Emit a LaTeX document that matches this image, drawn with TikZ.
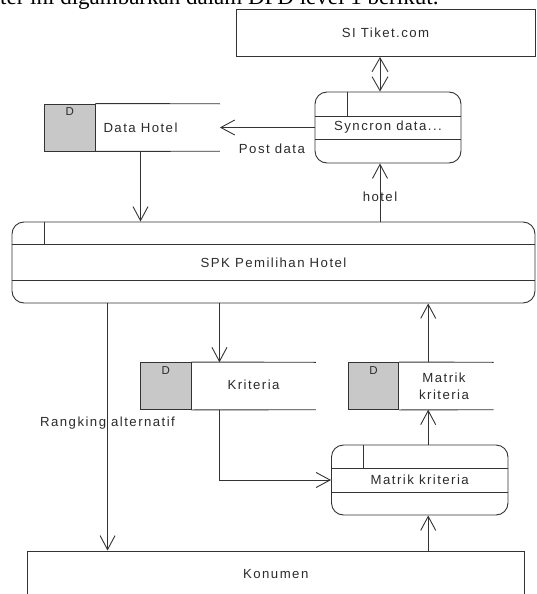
\documentclass[tikz,border=0pt]{standalone}
\usepackage{fontspec}
\setmainfont{Liberation Sans}
\newfontfamily\diafont[LetterSpace=11]{Liberation Sans}
\newfontfamily\paperfont{Liberation Serif}
\usetikzlibrary{arrows.meta, calc, positioning}
\definecolor{linec}{HTML}{333333}
\definecolor{storegray}{HTML}{C8C8C8}
\definecolor{textc}{HTML}{2B2B2B}

\begin{document}
\begin{tikzpicture}[
    x=1pt, y=-1pt,
    font=\diafont\fontsize{13.2}{15}\selectfont, text=textc,
    line/.style={draw=linec, line width=0.9pt},
    arrow/.style={line, -{Straight Barb[length=14pt, width=15pt]}},
    ext/.style={rectangle, draw=linec, line width=0.9pt, inner sep=0pt},
    proc/.style={rectangle, rounded corners=12pt, draw=linec, line width=0.9pt, inner sep=0pt,
        path picture={
            \draw[line] ([yshift=-#1]path picture bounding box.north west) -- ([yshift=-#1]path picture bounding box.north east);
            \draw[line] ([yshift=#1]path picture bounding box.south west) -- ([yshift=#1]path picture bounding box.south east);
            \draw[line] ([xshift=32pt]path picture bounding box.north west) -- ([xshift=32pt, yshift=-#1]path picture bounding box.north west);
        }},
    dbox/.style={rectangle, draw=linec, fill=storegray, line width=0.9pt, minimum width=50.5pt, minimum height=47pt, inner sep=0pt,
        label={[anchor=north, inner sep=0pt, yshift=-4pt, font=\diafont\fontsize{11.5}{12}\selectfont]north:D}},
    store/.style={rectangle, inner sep=0pt, minimum height=47pt},
    lbl/.style={inner sep=1pt}]

    \useasboundingbox (0,0) rectangle (537,594);

    % cut-off line of the paper above the figure
    \begin{scope}
        \clip (0,0) rectangle (537,594);
        \node[anchor=base west, inner sep=0pt, font=\paperfont\fontsize{23}{26}\selectfont, text=black] (para) at (0,5) {ter ini digambarkan dalam DFD level 1 berikut:};
    \end{scope}

    \node[ext, minimum width=299pt, minimum height=47pt] (siti) at (385.5,33) {SI Tiket.com};
    \node[proc=24pt, minimum width=146pt, minimum height=71pt] (sync) at (388,127.5) {Syncron data...};

    \node[dbox] (dhotelD) at (69.75,127.5) {};
    \node[store, minimum width=124pt, right=0pt of dhotelD] (dhotel) {};
    \node (dhoteltxt) at (140.5,128) {Data Hotel};

    \node[proc=22.5pt, minimum width=523pt, minimum height=81pt] (spk) at (273.5,262.5) {SPK Pemilihan Hotel};

    \node[dbox] (kritD) at (165.75,386) {};
    \node[store, minimum width=124pt, right=0pt of kritD] (krit) {};
    \node (krittxt) at (253.5,385) {Kriteria};

    \node[dbox] (mstoreD) at (373.5,386) {};
    \node[store, minimum width=94pt, right=0pt of mstoreD] (mstore) {};
    \node[align=center, font=\diafont\fontsize{13.2}{17}\selectfont] (mstoretxt) at (444,386.5) {Matrik\\kriteria};

    \node[proc=23pt, minimum width=176.5pt, minimum height=70pt] (mproc) at (419.75,480) {Matrik kriteria};
    \node[ext, minimum width=496.5pt, minimum height=46pt] (kon) at (275.75,574) {Konumen};

    % open sides of the data stores
    \foreach \s in {dhotel, krit, mstore} {
        \draw[line] (\s D.north east) -- (\s.north east);
        \draw[line] (\s D.south east) -- (\s.south east);
    }

    \coordinate (sx) at ([xshift=-8pt]sync.center);
    \coordinate (rx) at ([xshift=96pt]spk.west);
    \coordinate (kx) at ([xshift=28pt]krit.west);
    \coordinate (mx) at ([xshift=29pt]mstore.west);

    \draw[line, {Straight Barb[length=14pt, width=16pt]}-{Straight Barb[length=14pt, width=16pt]}] (siti.south -| sx) -- (sync.north -| sx);
    \draw[arrow] (sync.west) -- (dhotel.east) node[pos=0.45, below=15pt, lbl] {Post data};
    \draw[arrow] (spk.north -| sx) -- (sync.south -| sx) node[pos=0.42, lbl] {hotel};
    \draw[arrow] (dhotel.south -| dhoteltxt) -- (spk.north -| dhoteltxt);
    \draw[arrow] (spk.south -| rx) -- (kon.north -| rx) node[pos=0.484, lbl] {Rangking alternatif};
    \draw[arrow] (spk.south -| kx) -- (krit.north -| kx);
    \draw[arrow] (krit.south -| kx) |- (mproc.west);
    \draw[arrow] (mproc.north -| mx) -- (mstore.south -| mx);
    \draw[arrow] (mstore.north -| mx) -- (spk.south -| mx);
    \draw[arrow] (kon.north -| mx) -- (mproc.south -| mx);
\end{tikzpicture}
\end{document}
